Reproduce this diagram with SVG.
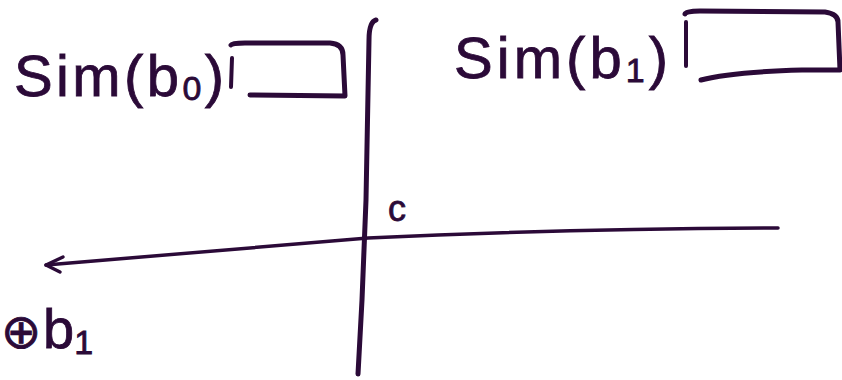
<svg xmlns="http://www.w3.org/2000/svg" width="842" height="380" viewBox="0 0 842 380">
<style>
.ink{fill:none;stroke:#2b0a38;stroke-linecap:round;stroke-linejoin:round}
.t{fill:#2b0a38;stroke:#2b0a38;stroke-width:0.8;font-family:"Liberation Sans",Arial,sans-serif}
</style>
<rect width="842" height="380" fill="#ffffff"/>
<g id="connectors">
<path id="axis-vertical" class="ink" stroke-width="5" d="M376,20 Q369,22 369,40 L366,200 L362,300 L358,374"/>
<path id="axis-horizontal" class="ink" stroke-width="3.5" d="M778,228 Q560,229 368,238 L46,265"/>
<path id="arrowhead" class="ink" stroke-width="3.5" d="M63,257 L46,265 L60,272"/>
</g>
<g id="node-sim-b0">
<text class="t" x="14" y="96" font-size="58" textLength="210" lengthAdjust="spacing">Sim(b<tspan font-size="34" dy="4">0</tspan><tspan dy="-4">)</tspan></text>
<path class="ink" stroke-width="4" d="M232,58 L231,87"/>
<path class="ink" stroke-width="5" d="M231,45 Q232,43 245,43 L330,43 Q343,44 343,55 L345,96 L250,95"/>
</g>
<g id="node-sim-b1">
<text class="t" x="454" y="78" font-size="58" textLength="214" lengthAdjust="spacing">Sim(b<tspan font-size="34" dy="4">1</tspan><tspan dy="-4">)</tspan></text>
<path class="ink" stroke-width="4" d="M686,22 L686,66"/>
<path class="ink" stroke-width="5" d="M685,14 Q686,11 700,11 L825,12 Q838,14 838,22 L840,70 L802,70 Q730,72 701,80"/>
</g>
<g id="node-c">
<text class="t" x="388" y="221" font-size="36">c</text>
</g>
<g id="node-xor-b1">
<text class="t" x="1" y="348" font-size="56"><tspan font-size="48">⊕</tspan><tspan dx="2">b</tspan><tspan font-size="34" dy="6">1</tspan></text>
</g>
</svg>
